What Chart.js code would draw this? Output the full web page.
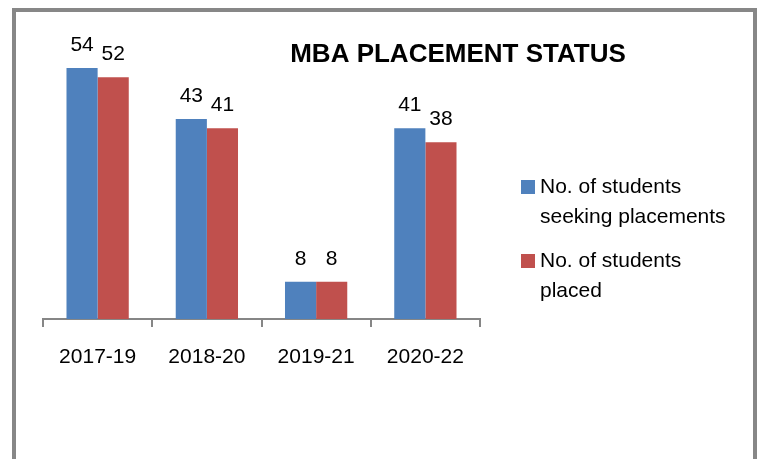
<!DOCTYPE html>
<html>
<head>
<meta charset="utf-8">
<script src="https://cdn.jsdelivr.net/npm/chart.js@4"></script>
<style>
  html, body { margin: 0; padding: 0; width: 759px; height: 459px; overflow: hidden; background: #fff; }
  #frame { position: absolute; left: 12px; top: 8px; width: 737px; height: 520px; border: 4px solid #878787; background: #fff; }
  #wrap { position: absolute; left: 0; top: 0; width: 759px; height: 459px; }
</style>
</head>
<body>
<div id="frame"></div>
<div id="wrap"><canvas id="placementChart"></canvas></div>
<script>
const categories = ['2017-19', '2018-20', '2019-21', '2020-22'];
const seeking = [54, 43, 8, 41];
const placed = [52, 41, 8, 38];
const seekingLabel = ['No. of students', 'seeking placements'];
const placedLabel = ['No. of students', 'placed'];
const chartTitle = 'MBA PLACEMENT STATUS';

const FONT = '"Liberation Sans", Arial, sans-serif';

// value labels above each bar
const valueLabels = {
  id: 'valueLabels',
  afterDatasetsDraw(chart) {
    const ctx = chart.ctx;
    ctx.save();
    ctx.font = '21px ' + FONT;
    ctx.fillStyle = '#000';
    ctx.textAlign = 'center';
    ctx.textBaseline = 'alphabetic';
    chart.data.datasets.forEach((ds, i) => {
      chart.getDatasetMeta(i).data.forEach((bar, j) => {
        ctx.fillText(String(ds.data[j]), bar.x, bar.y - 17);
      });
    });
    ctx.restore();
  }
};

// title + legend on the right, like the spreadsheet original
const sideBits = {
  id: 'sideBits',
  afterDraw(chart) {
    const ctx = chart.ctx;
    ctx.save();
    ctx.fillStyle = '#000';
    ctx.font = 'bold 26px ' + FONT;
    ctx.textAlign = 'center';
    ctx.textBaseline = 'alphabetic';
    ctx.fillText(chartTitle, 458, 62);

    ctx.font = '21px ' + FONT;
    ctx.textAlign = 'left';
    let y = 193;
    chart.data.datasets.forEach((ds) => {
      ctx.fillStyle = ds.backgroundColor;
      ctx.fillRect(521, y - 13, 14, 14);
      ctx.fillStyle = '#000';
      ds.label.forEach((line, k) => {
        ctx.fillText(line, 540, y + k * 30);
      });
      y += 74;
    });
    ctx.restore();
  }
};

const ctx = document.getElementById('placementChart').getContext('2d');
new Chart(ctx, {
  type: 'bar',
  data: {
    labels: categories,
    datasets: [
      { label: seekingLabel, data: seeking, backgroundColor: '#4F81BD', categoryPercentage: 0.57, barPercentage: 1 },
      { label: placedLabel, data: placed, backgroundColor: '#C0504D', categoryPercentage: 0.57, barPercentage: 1 }
    ]
  },
  options: {
    responsive: true,
    maintainAspectRatio: false,
    animation: false,
    layout: { padding: { left: 43, right: 279, top: 40, bottom: 0 } },
    plugins: {
      legend: { display: false },
      tooltip: { enabled: false }
    },
    scales: {
      x: {
        offset: true,
        grid: { display: true, offset: true, drawOnChartArea: false, drawTicks: true, tickLength: 8, color: '#868686', lineWidth: 2 },
        border: { display: true, color: '#868686', width: 2 },
        ticks: { color: '#000', font: { family: FONT, size: 21 }, padding: 18, maxRotation: 0 },
        afterFit(scale) { scale.height = 140; }
      },
      y: {
        display: false,
        min: 0,
        max: 60
      }
    }
  },
  plugins: [valueLabels, sideBits]
});
</script>
</body>
</html>
